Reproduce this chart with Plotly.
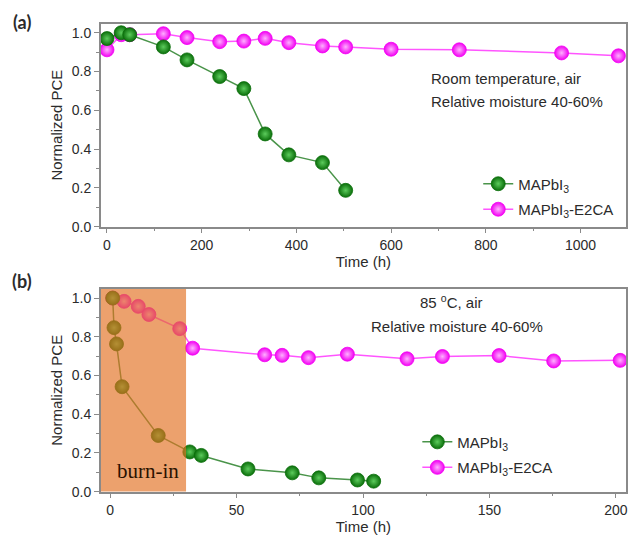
import plotly.graph_objects as go

# ---------------- data ----------------
# Panel (a): room temperature, air
a_mapbi3_t = [0, 30, 48, 119, 169, 238, 289, 334, 384, 455, 504]
a_mapbi3_pce = [0.97, 1.00, 0.99, 0.927, 0.86, 0.774, 0.712, 0.478, 0.37, 0.33, 0.187]
a_e2ca_t = [0, 30, 48, 119, 169, 238, 289, 334, 384, 455, 504, 600, 744, 960, 1080]
a_e2ca_pce = [0.912, 0.99, 0.99, 0.995, 0.975, 0.954, 0.957, 0.971, 0.949, 0.932, 0.927, 0.915, 0.912, 0.896, 0.881]

# Panel (b): 85 C, air
b_mapbi3_t = [1, 1.5, 2.5, 4.7, 19, 31.5, 36, 54.5, 72, 82.5, 97.8, 104.2]
b_mapbi3_pce = [1.0, 0.847, 0.763, 0.542, 0.29, 0.205, 0.187, 0.117, 0.097, 0.071, 0.06, 0.054]
b_e2ca_t = [1, 5.5, 11.1, 15.3, 27.5, 32.6, 61.1, 68, 78.4, 93.8, 117.4, 131.4, 153.8, 175.4, 201.7]
b_e2ca_pce = [1.0, 0.983, 0.957, 0.915, 0.842, 0.741, 0.707, 0.704, 0.692, 0.71, 0.686, 0.698, 0.703, 0.675, 0.678]

burn_in_end = 30

a_xticks = [0, 200, 400, 600, 800, 1000]
b_xticks = [0, 50, 100, 150, 200]
y_ticks = [0.0, 0.2, 0.4, 0.6, 0.8, 1.0]
y_ticklabels = ["0.0", "0.2", "0.4", "0.6", "0.8", "1.0"]

name_mapbi3 = "MAPbI<sub>3</sub>"
name_e2ca = "MAPbI<sub>3</sub>-E2CA"

# ---------------- styles ----------------
FONT = "Liberation Sans"
TXT = "#2b2b2b"
AXC = "#8a8a8a"
GREEN_LINE = "#4a944a"
GREEN_EDGE = "#0a6e0a"      # marker body / rim
GREEN_HI = "#5ccc5c"        # radial centre highlight
MAG_LINE = "#ff55ff"
MAG_EDGE = "#f200f2"
MAG_HI = "#ffb0ff"

xr_a = [-13, 1096]
xr_b = [-3.7, 204]
yr = [0, 1.047]

fig = go.Figure()


def add_series(x, y, name, xa, ya, legend, line_c, body, hi, rank, group):
    fig.add_trace(go.Scatter(
        x=x, y=y, name=name, mode="lines+markers",
        xaxis=xa, yaxis=ya, legend=legend, legendrank=rank, legendgroup=group,
        line=dict(color=line_c, width=1.5),
        marker=dict(size=14, color=body, gradient=dict(type="radial", color=hi),
                    line=dict(width=0.8, color=body)),
    ))


# magenta first so green spheres sit on top
add_series(a_e2ca_t, a_e2ca_pce, name_e2ca, "x", "y", "legend", MAG_LINE, MAG_EDGE, MAG_HI, 2, "a2")
add_series(a_mapbi3_t, a_mapbi3_pce, name_mapbi3, "x", "y", "legend", GREEN_LINE, GREEN_EDGE, GREEN_HI, 1, "a1")
add_series(b_e2ca_t, b_e2ca_pce, name_e2ca, "x2", "y2", "legend2", MAG_LINE, MAG_EDGE, MAG_HI, 2, "b2")
add_series(b_mapbi3_t, b_mapbi3_pce, name_mapbi3, "x2", "y2", "legend2", GREEN_LINE, GREEN_EDGE, GREEN_HI, 1, "b1")

W, H = 628, 540
dom_x = [101 / W, 627 / W]
dom_a = [(H - 230) / H, (H - 24) / H]
dom_b = [(H - 499) / H, (H - 293.3) / H]

axis_common = dict(
    showline=True, linecolor=AXC, linewidth=1.5, mirror=True,
    ticks="outside", ticklen=5, tickwidth=1.2, tickcolor=AXC,
    showgrid=False, zeroline=False,
    tickfont=dict(family=FONT, size=14, color=TXT),
)
title_font = dict(family=FONT, size=15, color=TXT)

fig.update_layout(
    width=W, height=H,
    margin=dict(l=0, r=0, t=0, b=0),
    paper_bgcolor="white", plot_bgcolor="white",
    font=dict(family=FONT, size=15, color=TXT),
    xaxis=dict(domain=dom_x, range=xr_a, anchor="y", tickvals=a_xticks,
               minor=dict(dtick=100, tick0=0, ticks="outside", ticklen=3, tickcolor=AXC),
               title=dict(text="Time (h)", font=title_font, standoff=4),
               **axis_common),
    yaxis=dict(domain=dom_a, range=yr, anchor="x", tickvals=y_ticks, ticktext=y_ticklabels,
               minor=dict(dtick=0.1, tick0=0, ticks="outside", ticklen=3, tickcolor=AXC),
               title=dict(text="Normalized PCE", font=title_font, standoff=6),
               **axis_common),
    xaxis2=dict(domain=dom_x, range=xr_b, anchor="y2", tickvals=b_xticks,
                minor=dict(dtick=25, tick0=0, ticks="outside", ticklen=3, tickcolor=AXC),
                title=dict(text="Time (h)", font=title_font, standoff=4),
                **axis_common),
    yaxis2=dict(domain=dom_b, range=yr, anchor="x2", tickvals=y_ticks, ticktext=y_ticklabels,
                minor=dict(dtick=0.1, tick0=0, ticks="outside", ticklen=3, tickcolor=AXC),
                title=dict(text="Normalized PCE", font=title_font, standoff=6),
                **axis_common),
    legend=dict(x=479 / W, y=(H - 170) / H, xanchor="left", yanchor="top",
                bgcolor="rgba(0,0,0,0)", tracegroupgap=3,
                font=dict(family=FONT, size=15, color=TXT)),
    legend2=dict(x=418 / W, y=(H - 432) / H, xanchor="left", yanchor="top",
                 bgcolor="rgba(0,0,0,0)", tracegroupgap=3,
                 font=dict(family=FONT, size=15, color=TXT)),
    showlegend=True,
)

# burn-in shaded region (drawn over the markers, semi-transparent)
fig.add_shape(type="rect", xref="x2", yref="y2 domain",
              x0=xr_b[0], x1=burn_in_end, y0=0, y1=1,
              fillcolor="rgba(226,112,34,0.66)", line=dict(width=0), layer="above")

ann = [
    dict(text="<b>(a)</b>", x=22 / W, y=(H - 22) / H, size=18, fam="Lato", xa="center"),
    dict(text="<b>(b)</b>", x=22 / W, y=(H - 285) / H, size=18, fam="Lato", xa="center"),
    dict(text="Room temperature, air", x=430 / W, y=(H - 80) / H, size=15, fam=FONT, xa="left"),
    dict(text="Relative moisture 40-60%", x=430 / W, y=(H - 103) / H, size=15, fam=FONT, xa="left"),
    dict(text="85 <sup>o</sup>C, air", x=452 / W, y=(H - 306) / H, size=15, fam=FONT, xa="center"),
    dict(text="Relative moisture 40-60%", x=458 / W, y=(H - 331) / H, size=15, fam=FONT, xa="center"),
    dict(text="burn-in", x=148 / W, y=(H - 478) / H, size=21, fam="Liberation Serif", xa="center", col="#2a1200"),
]
for a in ann:
    fig.add_annotation(text=a["text"], x=a["x"], y=a["y"], xref="paper", yref="paper",
                       xanchor=a["xa"], yanchor="middle", showarrow=False,
                       font=dict(family=a["fam"], size=a["size"], color=a.get("col", TXT)))

fig.write_html("out.html", config={"displayModeBar": False},
               post_script="document.body.style.margin='0px';document.body.style.padding='0px';")
